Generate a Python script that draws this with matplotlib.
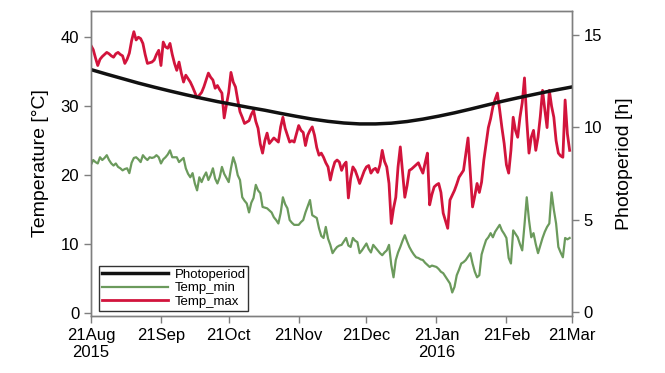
import numpy as np
import pandas as pd
import matplotlib
matplotlib.use("Agg")
import matplotlib.pyplot as plt
import matplotlib.dates as mdates

plt.rcParams['font.family'] = ['Liberation Sans', 'DejaVu Sans']

# daily data, 21 Aug 2015 .. 20 Mar 2016
start = "2015-08-21"

temp_max = [
    38.8, 38.2, 37.0, 35.9, 36.8, 37.2, 37.5, 37.8, 37.6, 37.3,
    37.1, 37.6, 37.8, 37.5, 37.3, 36.2, 36.8, 37.7, 39.5, 40.8,
    39.6, 40.0, 39.8, 39.1, 37.5, 36.2, 36.3, 36.4, 36.7, 37.5,
    38.1, 35.9, 39.3, 38.6, 38.4, 39.1, 37.5, 36.2, 35.2, 36.4,
    34.8, 33.5, 34.5, 34.0, 33.5, 32.8, 32.0, 31.2, 31.6, 32.0,
    32.8, 33.8, 34.8, 34.2, 33.8, 32.6, 33.0, 32.4, 31.9, 28.3,
    30.2, 32.0, 34.9, 33.5, 32.8, 30.9, 29.2, 28.4, 27.5, 27.7,
    27.9, 28.8, 29.4, 27.8, 26.8, 24.5, 23.2, 25.0, 26.1, 24.6,
    25.0, 25.4, 25.1, 24.8, 27.0, 28.4, 26.8, 25.8, 24.8, 25.0,
    24.8, 26.0, 27.2, 26.5, 26.2, 24.3, 25.8, 26.5, 27.0, 25.8,
    24.0, 22.9, 23.2, 22.6, 21.8, 21.2, 19.3, 20.8, 21.9, 22.2,
    21.9, 20.7, 21.5, 21.9, 16.7, 19.5, 21.2, 20.7, 19.8, 18.8,
    19.7, 20.6, 21.2, 21.4, 20.3, 20.8, 21.0, 20.4, 21.5, 23.6,
    22.0, 21.2, 18.8, 13.0, 15.2, 16.8, 21.2, 24.1, 20.5, 16.8,
    18.5, 20.7, 20.9, 21.2, 21.5, 21.8, 21.0, 20.3, 21.8, 23.2,
    15.7, 17.2, 18.3, 18.6, 18.8, 17.5, 14.5, 13.4, 12.3, 16.4,
    17.1, 17.8, 18.7, 19.7, 20.2, 20.7, 23.0, 25.4, 20.3, 15.4,
    17.0, 18.8, 17.5, 19.0, 22.2, 24.5, 26.9, 28.2, 29.9, 31.0,
    31.9, 29.5, 26.9, 24.6, 21.5, 20.3, 23.6, 28.4, 26.5, 25.5,
    28.4, 30.5, 34.1, 28.0, 23.2, 25.5, 26.5, 23.6, 25.5, 28.5,
    32.3, 29.5, 26.9, 32.3, 30.0, 28.4, 25.0, 23.2, 22.8, 22.6,
    30.9, 26.0, 23.6,
]

temp_min = [
    21.5, 22.2, 21.9, 21.7, 22.6, 22.2, 22.5, 22.9, 22.2, 21.7,
    21.4, 21.7, 21.2, 21.0, 20.7, 20.9, 21.0, 20.3, 21.8, 22.5,
    22.6, 22.3, 21.9, 22.9, 22.5, 22.2, 22.6, 22.5, 22.6, 22.9,
    22.6, 21.7, 22.3, 22.6, 23.0, 23.6, 22.6, 22.6, 22.6, 21.9,
    22.2, 22.5, 21.0, 20.2, 19.7, 20.3, 18.8, 17.8, 19.7, 19.0,
    19.8, 20.4, 19.3, 20.0, 21.0, 19.5, 18.8, 19.7, 21.2, 20.2,
    19.6, 19.0, 21.0, 22.6, 21.6, 20.0, 19.3, 16.8, 16.3, 15.9,
    14.6, 16.0, 16.7, 18.6, 17.8, 17.4, 15.4, 15.3, 15.2, 14.9,
    14.6, 13.9, 13.5, 13.0, 14.5, 16.8, 15.8, 15.2, 13.5, 13.1,
    12.8, 12.8, 12.8, 13.2, 13.5, 14.6, 15.5, 16.4, 14.2, 14.0,
    13.8, 12.3, 11.2, 10.9, 12.5, 10.8, 9.9, 8.7, 9.2, 9.6,
    9.8, 9.9, 10.4, 10.9, 9.8, 9.6, 10.9, 10.5, 10.3, 8.7,
    9.1, 9.6, 10.1, 9.3, 8.8, 9.9, 9.5, 9.1, 8.7, 8.4,
    8.8, 9.1, 9.9, 7.0, 5.2, 7.7, 8.8, 9.6, 10.5, 11.3,
    10.4, 9.6, 9.0, 8.5, 8.1, 8.0, 7.8, 7.7, 7.3, 7.0,
    6.7, 6.9, 6.8, 6.7, 6.4, 6.0, 5.8, 5.3, 4.8, 4.3,
    3.0, 3.8, 5.5, 6.3, 7.2, 7.4, 7.7, 8.2, 8.7, 7.2,
    6.0, 5.2, 5.5, 8.5, 9.6, 10.6, 11.0, 11.6, 11.0, 11.8,
    12.3, 12.8, 12.0, 11.5, 10.9, 8.0, 7.2, 12.0, 11.5, 11.0,
    10.0, 9.1, 12.8, 16.8, 13.5, 11.0, 11.6, 10.0, 8.7, 9.8,
    10.9, 11.8, 12.5, 13.0, 17.5, 15.0, 13.0, 9.6, 8.8, 8.1,
    10.9, 10.7, 10.9,
]

# photoperiod [h], weekly values + end point
photo_days = [0, 7, 14, 21, 28, 35, 42, 49, 56, 63, 70, 77, 84, 91, 98, 105,
              112, 119, 126, 133, 140, 147, 154, 161, 168, 175, 182, 189,
              196, 203, 210, 213]
photoperiod = [13.13, 12.88, 12.64, 12.40, 12.18, 11.97, 11.77, 11.58, 11.40,
               11.24, 11.08, 10.93, 10.76, 10.60, 10.45, 10.33, 10.24, 10.19,
               10.19, 10.23, 10.32, 10.45, 10.61, 10.79, 10.99, 11.20, 11.41,
               11.60, 11.78, 11.96, 12.12, 12.19]

tick_dates = ["2015-08-21", "2015-09-21", "2015-10-21", "2015-11-21",
              "2015-12-21", "2016-01-21", "2016-02-21", "2016-03-21"]
tick_labels = ["21Aug\n2015", "21Sep", "21Oct", "21Nov", "21Dec",
               "21Jan\n2016", "21Feb", "21Mar"]

days = pd.date_range(start, periods=len(temp_max), freq="D")
pdays = pd.Timestamp(start) + pd.to_timedelta(photo_days, unit="D")

frame_col = "#7f7f7f"

fig = plt.figure(figsize=(6.65, 3.73), dpi=100)
ax = fig.add_axes([0.1368, 0.153, 0.7232, 0.8175])
ax2 = ax.twinx()

l_min, = ax.plot(days, temp_min, color="#6b9a5c", lw=1.6, label="Temp_min")
l_max, = ax.plot(days, temp_max, color="#d2143c", lw=2.0, label="Temp_max")
l_ph, = ax2.plot(pdays, photoperiod, color="#111111", lw=2.5, label="Photoperiod")

ax.set_xlim(pd.Timestamp(tick_dates[0]), pd.Timestamp(tick_dates[-1]))
ax.set_ylim(-0.4, 43.8)
ax2.set_ylim(-0.2, 16.3)
ax.set_yticks([0, 10, 20, 30, 40])
ax2.set_yticks([0, 5, 10, 15])
ax.set_xticks([pd.Timestamp(d) for d in tick_dates])
ax.set_xticklabels(tick_labels)

for a in (ax, ax2):
    for s in a.spines.values():
        s.set_color(frame_col)
        s.set_linewidth(1.0)
    a.tick_params(direction="out", length=5, width=1, color=frame_col,
                  labelsize=12)

ax.set_ylabel("Temperature [°C]", fontsize=14, labelpad=8)
ax2.set_ylabel("Photoperiod [h]", fontsize=14, labelpad=10)

leg = ax2.legend(handles=[l_ph, l_min, l_max], loc="lower left",
                 bbox_to_anchor=(0.004, -0.004), fontsize=9.5, handlelength=5.0,
                 borderpad=0.2, labelspacing=0.1, handletextpad=0.5,
                 fancybox=False, framealpha=1)
leg.get_frame().set_edgecolor("#333333")
leg.get_frame().set_linewidth(1.0)

fig.savefig("out.png", dpi=100)
